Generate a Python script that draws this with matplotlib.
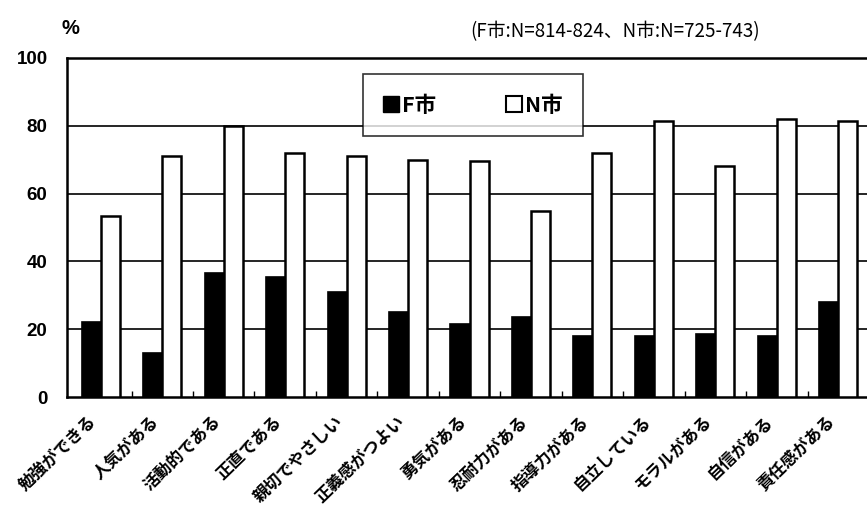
import numpy as np
import matplotlib
matplotlib.use("Agg")
import matplotlib.pyplot as plt
from matplotlib.patches import Patch
from matplotlib.transforms import ScaledTranslation

plt.rcParams['font.family'] = ['Noto Sans CJK JP', 'DejaVu Sans']

# data
categories = ['勉強ができる', '人気がある', '活動的である', '正直である', '親切でやさしい',
              '正義感がつよい', '勇気がある', '忍耐力がある', '指導力がある', '自立している',
              'モラルがある', '自信がある', '責任感がある']
f_city = [22, 13, 36.5, 35.5, 31, 25, 21.5, 23.5, 18, 18, 18.5, 18, 28]
n_city = [53.5, 71, 80, 72, 71, 70, 69.5, 55, 72, 81.5, 68, 82, 81.5]
series_names = ['F市', 'N市']
yticks = [0, 20, 40, 60, 80, 100]

fig = plt.figure(figsize=(8.67, 5.09), dpi=100)
ax = fig.add_axes([67 / 867, 1 - 397 / 509, 802 / 867, 339 / 509])

x = np.arange(len(categories))
w = 0.31
ax.bar(x - w / 2, f_city, w, color='black', edgecolor='black', linewidth=1.2, zorder=3)
ax.bar(x + w / 2, n_city, w, color='white', edgecolor='black', linewidth=1.8, zorder=3)

ax.set_xlim(-0.55, 12.5)
ax.set_ylim(0, 100)
ax.set_yticks(yticks)
ax.set_yticklabels([str(v) for v in yticks], fontsize=13.5, fontweight='bold',
                   family=['Liberation Sans', 'DejaVu Sans'])
ax.tick_params(axis='y', length=0, pad=14)
for v in yticks[1:-1]:
    ax.axhline(v, color='black', linewidth=1.2, zorder=1)

# category boundary ticks
ax.set_xticks(x + 0.5, minor=True)
ax.tick_params(axis='x', which='minor', direction='in', length=4, width=1)
ax.set_xticks(x)
ax.set_xticklabels(categories, rotation=44, ha='right', rotation_mode='anchor',
                   fontsize=12, fontweight='bold')
ax.tick_params(axis='x', which='major', length=0, pad=11)
for lab in ax.get_xticklabels():
    lab.set_transform(lab.get_transform() + ScaledTranslation(-9 / 72, 0, fig.dpi_scale_trans))

for side in ['left', 'bottom', 'top']:
    ax.spines[side].set_linewidth(1.8)
ax.spines['right'].set_visible(False)

handles = [Patch(facecolor='black', edgecolor='black'),
           Patch(facecolor='white', edgecolor='black', linewidth=1.5)]
leg = ax.legend(handles, series_names, loc='center', bbox_to_anchor=(0.506, 0.861),
                ncol=2, frameon=True, fancybox=False, edgecolor='black',
                handlelength=0.75, handleheight=0.75, handletextpad=0.15,
                columnspacing=3.2, borderpad=0.95,
                prop={'size': 15.5, 'weight': 'bold', 'family': ['Noto Sans CJK JP', 'DejaVu Sans']})
leg.get_frame().set_linewidth(1.2)
leg.set_zorder(5)

fig.text(62 / 867, 1 - 28 / 509, '%', fontsize=14.5, fontweight='bold', va='center',
         family=['Liberation Sans', 'DejaVu Sans'])
fig.text(470 / 867, 1 - 32 / 509, '(F市:N=814-824、N市:N=725-743)', fontsize=13.5,
         va='center', ha='left')

fig.savefig('out.png', dpi=100)
